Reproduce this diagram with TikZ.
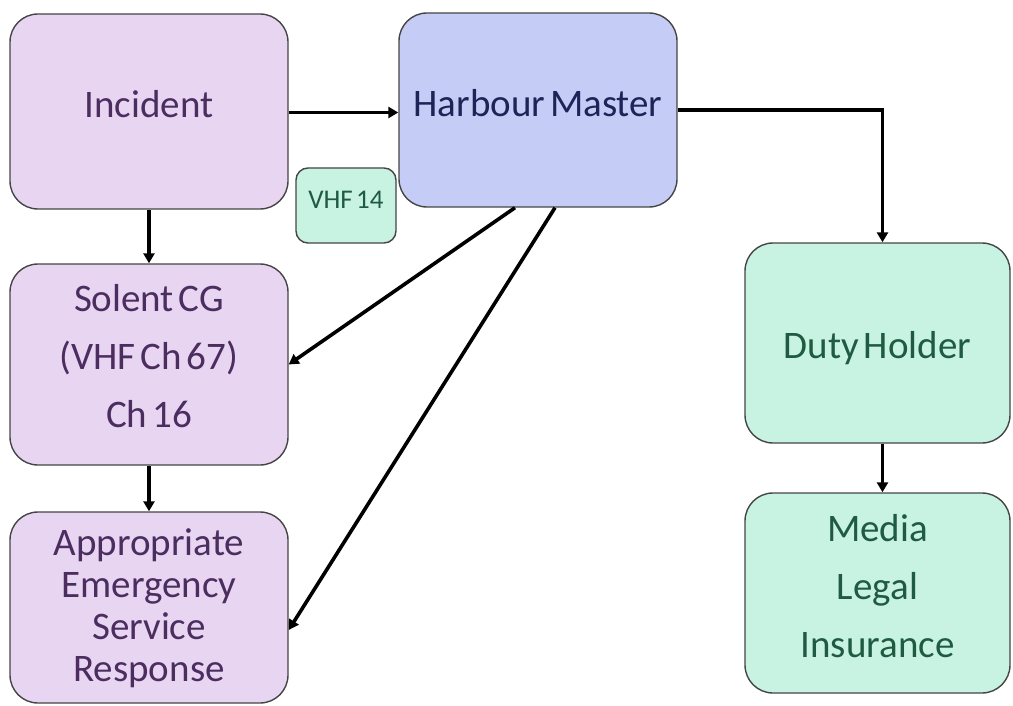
\documentclass[tikz,border=0pt]{standalone}
\usepackage{fontspec}
\setmainfont{Carlito}[WordSpace=0.55]
\usetikzlibrary{arrows.meta,calc}
\definecolor{lilac}{HTML}{E7D5F2}
\definecolor{periwinkle}{HTML}{C5CCF5}
\definecolor{mint}{HTML}{C8F2E1}
\definecolor{boxline}{HTML}{454545}
\definecolor{plumtext}{HTML}{4B2D5F}
\definecolor{navytext}{HTML}{1E2457}
\definecolor{greentext}{HTML}{1F5B43}
\begin{document}
\begin{tikzpicture}[x=1pt,y=-1pt,
  box/.style={draw=boxline, line width=1.4pt, rounded corners=28pt, inner sep=0pt},
  txt/.style={inner sep=0pt, align=center, font=\fontsize{39}{58}\selectfont},
  flow/.style={line width=3.6pt, -{Triangle[length=10pt,width=11pt]}}]
\useasboundingbox (0,0) rectangle (1013,706);

% boxes
\node[box, fill=lilac, minimum width=278pt, minimum height=195pt] (inc) at (149,111.5) {};
\node[box, fill=periwinkle, minimum width=278pt, minimum height=194pt] (hm) at (538,110) {};
\node[box, fill=mint, rounded corners=12pt, minimum width=100pt, minimum height=75pt] (vhf) at (346,205.5) {};
\node[box, fill=lilac, minimum width=278pt, minimum height=201pt] (sol) at (149,364.5) {};
\node[box, fill=lilac, minimum width=278pt, minimum height=191pt] (app) at (149,607.5) {};
\node[box, fill=mint, minimum width=265pt, minimum height=200pt] (duty) at (877.5,343) {};
\node[box, fill=mint, minimum width=265pt, minimum height=200pt] (med) at (877.5,593) {};

% labels
\node[txt, text=plumtext] (inc-t) at (149,104) {Incident};
\node[txt, text=navytext] (hm-t) at (538,103) {Harbour Master};
\node[txt, text=greentext, font=\fontsize{27}{32}\selectfont] (vhf-t) at (346,199.5) {VHF 14};
\node[txt, text=plumtext] (sol-t) at (149,356) {Solent CG\\(VHF Ch 67)\\Ch 16};
\node[txt, text=plumtext, font=\fontsize{39}{42}\selectfont] (app-t) at (149,608) {Appropriate\\Emergency\\Service\\Response};
\node[txt, text=greentext] (duty-t) at (877.5,348) {Duty Holder};
\node[txt, text=greentext] (med-t) at (877.5,586.5) {Media\\Legal\\Insurance};

% connectors
\draw[flow] ($(inc.east)+(0,1)$) -- ($(inc.east -| hm.west)+(0,1)$);
\draw[flow] (hm.east) -| ($(duty.north)+(5,0)$);
\draw[flow] (inc.south) -- (sol.north);
\draw[flow] (sol.south) -- (app.north);
\draw[flow] ($(duty.south)+(5,0)$) -- ($(med.north)+(5,0)$);
\draw[flow] ($(hm.south)+(-23,0)$) -- (sol.east);
\draw[flow] ($(hm.south)+(17,0)$) -- ($(app.east)+(0,22.5)$);
\end{tikzpicture}
\end{document}
